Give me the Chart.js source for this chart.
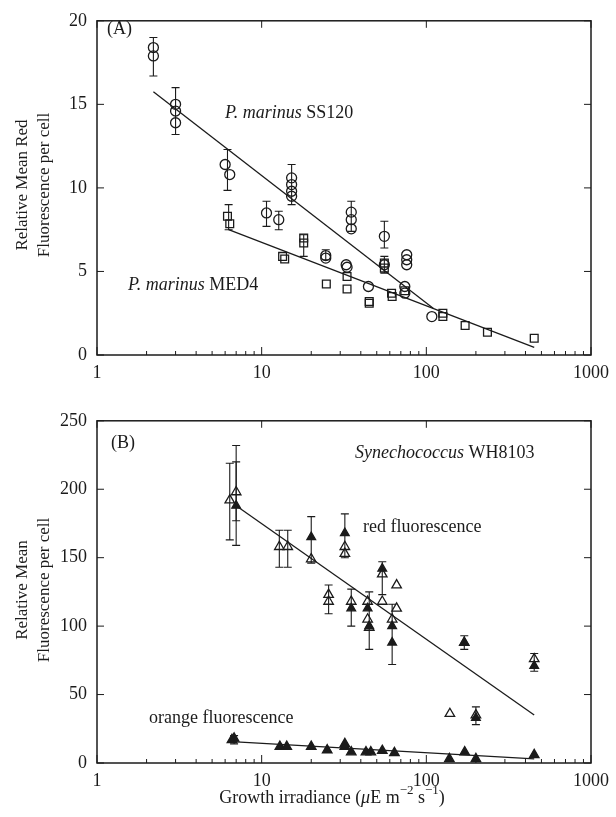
<!DOCTYPE html>
<html lang="en">
<head>
<meta charset="UTF-8">
<title>Relative mean fluorescence per cell vs growth irradiance</title>
<script src="https://cdn.jsdelivr.net/npm/chart.js"></script>
<style>
    body { margin: 0; background: #fff; }
    .wrap { position: relative; width: 616px; height: 817px; }
    canvas { position: absolute; left: 0; }
    #chartA { top: 0; }
    #chartB { top: 400px; }
</style>
</head>
<body>
<div class="wrap">
    <canvas id="chartA" width="616" height="392"></canvas>
    <canvas id="chartB" width="616" height="417"></canvas>
</div>
<script>
// ---- panel A : P. marinus SS120 (circles) and MED4 (squares)
const ss120X = [2.2, 2.2, 3.0, 3.0, 3.0, 6.0, 6.4, 10.7, 12.7, 15.2, 15.2, 15.2, 15.2, 24.5, 24.5, 32.6, 33, 35, 35, 35, 44.5, 55.6, 55.6, 76, 76, 76, 74, 74, 108];
const ss120Y = [18.4, 17.9, 15.0, 14.6, 13.9, 11.4, 10.8, 8.5, 8.1, 10.6, 10.2, 9.8, 9.5, 5.95, 5.8, 5.4, 5.25, 8.55, 8.1, 7.55, 4.1, 7.1, 5.4, 6.0, 5.7, 5.4, 4.1, 3.7, 2.3];
const med4X = [6.2, 6.4, 13.4, 13.8, 18, 18, 24.7, 33, 33, 45, 45, 55.6, 55.6, 61.5, 62, 74, 126, 126, 172, 235, 452];
const med4Y = [8.3, 7.85, 5.9, 5.75, 7.0, 6.7, 4.25, 4.7, 3.95, 3.2, 3.1, 5.5, 5.2, 3.7, 3.5, 3.85, 2.5, 2.3, 1.77, 1.36, 1.0];
const errAX = [2.2, 3.0, 6.2, 6.3, 10.7, 12.7, 15.2, 18, 24.5, 35, 55.6, 55.6];
const errALo = [16.7, 13.2, 9.85, 7.5, 7.7, 7.5, 9.0, 5.9, 5.7, 7.4, 6.4, 4.9];
const errAHi = [19.0, 16.0, 12.3, 9.0, 9.2, 8.6, 11.4, 7.2, 6.3, 9.2, 8.0, 5.9];
const ss120FitX = [2.2, 110];
const ss120FitY = [15.75, 2.8];
const med4FitX = [6.3, 452];
const med4FitY = [7.5, 0.45];

// ---- panel B : Synechococcus WH8103
const redOpenX = [6.4, 7.0, 12.8, 14.4, 20, 32, 32, 25.5, 25.5, 35, 44, 44, 45, 54, 54, 66, 66, 62, 170, 139, 200, 452];
const redOpenY = [192, 198, 158, 158, 149, 158, 153, 123, 118, 118, 118, 105, 99, 138, 118, 130, 113, 105, 88, 36, 35, 76];
const redFilledX = [7.0, 20, 32, 35, 44, 45, 54, 62, 62, 170, 200, 452];
const redFilledY = [188, 165, 168, 113, 113, 100, 142, 100, 88, 88, 33, 71];
const orangeX = [6.6, 6.8, 12.9, 14.2, 20, 25, 32, 32, 35, 43, 46, 54, 64, 138, 171, 200, 452];
const orangeY = [17, 18, 12, 12, 12, 9.5, 14, 12, 8, 8, 8, 9, 7.5, 3, 8, 3, 6];
const errBX = [6.4, 7.0, 7.0, 12.8, 14.4, 20, 32, 25.5, 35, 45, 54, 62, 170, 200, 452, 6.8];
const errBLo = [163, 159, 177, 143, 143, 146, 150, 109, 100, 83, 123, 72, 83, 28, 67, 14];
const errBHi = [219, 232, 220, 170, 170, 180, 182, 130, 127, 125, 147, 116, 93, 41, 80, 20];
const redFitX = [7.0, 452];
const redFitY = [188, 35];
const orangeFitX = [7.0, 452];
const orangeFitY = [15.5, 3];

const decades = [1, 10, 100, 1000];
const INK = '#1b1b1b';
const SERIF = '"Liberation Serif", "DejaVu Serif", serif';

function pts(xs, ys) {
    return xs.map((x, i) => ({ x: x, y: ys[i] }));
}

function marks(xs, ys, style, radius, filled) {
    return {
        data: pts(xs, ys),
        pointStyle: style,
        pointRadius: radius,
        borderColor: INK,
        backgroundColor: filled ? INK : 'rgba(0,0,0,0)',
        borderWidth: 1.3,
        showLine: false
    };
}

function fitLine(xs, ys) {
    return {
        data: pts(xs, ys),
        showLine: true,
        pointRadius: 0,
        borderColor: INK,
        borderWidth: 1.3,
        fill: false
    };
}

// text with italic / superscript pieces
function drawRich(ctx, parts, x, y, size, align) {
    const fontOf = p => (p.italic ? 'italic ' : '') + (p.sup ? Math.round(size * 0.7) : size) + 'px ' + SERIF;
    let total = 0;
    parts.forEach(p => { ctx.font = fontOf(p); total += ctx.measureText(p.t).width; });
    let cx = align === 'center' ? x - total / 2 : x;
    ctx.textAlign = 'left';
    ctx.textBaseline = 'middle';
    parts.forEach(p => {
        ctx.font = fontOf(p);
        ctx.fillText(p.t, cx, p.sup ? y - size * 0.4 : y);
        cx += ctx.measureText(p.t).width;
    });
}

function decor(errX, errLo, errHi, texts, yTitle, yTitleMid) {
    return {
        id: 'decor',
        afterDatasetsDraw(chart) {
            const ctx = chart.ctx;
            const a = chart.chartArea;
            const xs = chart.scales.x, ys = chart.scales.y;
            ctx.save();
            ctx.strokeStyle = INK;
            ctx.fillStyle = INK;

            // error bars
            ctx.lineWidth = 1.1;
            errX.forEach((v, i) => {
                const px = xs.getPixelForValue(v);
                const y1 = ys.getPixelForValue(errLo[i]);
                const y2 = ys.getPixelForValue(errHi[i]);
                ctx.beginPath();
                ctx.moveTo(px, y1); ctx.lineTo(px, y2);
                ctx.moveTo(px - 4, y1); ctx.lineTo(px + 4, y1);
                ctx.moveTo(px - 4, y2); ctx.lineTo(px + 4, y2);
                ctx.stroke();
            });

            // frame
            ctx.lineWidth = 1.5;
            ctx.strokeRect(a.left, a.top, a.right - a.left, a.bottom - a.top);

            // inward ticks
            ctx.lineWidth = 1;
            ctx.beginPath();
            ys.ticks.forEach(t => {
                const py = ys.getPixelForValue(t.value);
                ctx.moveTo(a.left, py); ctx.lineTo(a.left + 7, py);
                ctx.moveTo(a.right, py); ctx.lineTo(a.right - 7, py);
            });
            decades.forEach(d => {
                const px = xs.getPixelForValue(d);
                ctx.moveTo(px, a.bottom); ctx.lineTo(px, a.bottom - 8);
                ctx.moveTo(px, a.top); ctx.lineTo(px, a.top + 7);
                if (d < 1000) {
                    for (let k = 2; k <= 9; k++) {
                        const pm = xs.getPixelForValue(d * k);
                        ctx.moveTo(pm, a.bottom); ctx.lineTo(pm, a.bottom - 4);
                    }
                }
            });
            ctx.stroke();

            // annotations
            texts.forEach(t => drawRich(ctx, t.parts, t.x, t.y, t.size || 18, t.align || 'left'));

            // y title, two lines rotated
            ctx.font = '17px ' + SERIF;
            ctx.textAlign = 'center';
            ctx.textBaseline = 'middle';
            yTitle.forEach((line, i) => {
                ctx.save();
                ctx.translate(i === 0 ? 23 : 45, yTitleMid);
                ctx.rotate(-Math.PI / 2);
                ctx.fillText(line, 0, 0);
                ctx.restore();
            });
            ctx.restore();
        }
    };
}

function baseOptions(yMax, yStep, padTop, xAxisHeight) {
    return {
        responsive: false,
        animation: false,
        layout: { padding: { left: 0, top: padTop, right: 24, bottom: 0 } },
        plugins: { legend: { display: false }, tooltip: { enabled: false } },
        scales: {
            x: {
                type: 'logarithmic', min: 1, max: 1000,
                grid: { display: false, drawTicks: false },
                border: { display: false },
                ticks: {
                    color: INK, font: { family: SERIF, size: 18 }, padding: 7,
                    maxRotation: 0, autoSkip: false,
                    callback: v => decades.includes(v) ? String(v) : ''
                },
                afterBuildTicks: s => { s.ticks = decades.map(v => ({ value: v })); },
                afterFit: s => { s.height = xAxisHeight; }
            },
            y: {
                min: 0, max: yMax,
                grid: { display: false, drawTicks: false },
                border: { display: false },
                ticks: { stepSize: yStep, color: INK, font: { family: SERIF, size: 18 }, padding: 10 },
                afterFit: s => { s.width = 97; }
            }
        }
    };
}

new Chart(document.getElementById('chartA'), {
    type: 'scatter',
    data: {
        datasets: [
            fitLine(ss120FitX, ss120FitY),
            fitLine(med4FitX, med4FitY),
            marks(ss120X, ss120Y, 'circle', 5, false),
            marks(med4X, med4Y, 'rect', 5.5, false)
        ]
    },
    options: baseOptions(20, 5, 16, 37),
    plugins: [decor(errAX, errALo, errAHi, [
        { parts: [{ t: '(A)' }], x: 107, y: 29 },
        { parts: [{ t: 'P. marinus', italic: true }, { t: ' SS120' }], x: 225, y: 113 },
        { parts: [{ t: 'P. marinus', italic: true }, { t: ' MED4' }], x: 128, y: 285 }
    ], ['Relative Mean Red', 'Fluorescence per cell'], 185)]
});

new Chart(document.getElementById('chartB'), {
    type: 'scatter',
    data: {
        datasets: [
            fitLine(redFitX, redFitY),
            fitLine(orangeFitX, orangeFitY),
            marks(redOpenX, redOpenY, 'triangle', 5.5, false),
            marks(redFilledX, redFilledY, 'triangle', 5, true),
            marks(orangeX, orangeY, 'triangle', 5.5, true)
        ]
    },
    options: baseOptions(250, 50, 18, 54),
    plugins: [decor(errBX, errBLo, errBHi, [
        { parts: [{ t: '(B)' }], x: 111, y: 43 },
        { parts: [{ t: 'Synechococcus', italic: true }, { t: ' WH8103' }], x: 355, y: 53 },
        { parts: [{ t: 'red fluorescence' }], x: 363, y: 127 },
        { parts: [{ t: 'orange fluorescence' }], x: 149, y: 318 },
        { parts: [{ t: 'Growth irradiance (' }, { t: 'μ', italic: true }, { t: 'E m' }, { t: '−2', sup: true }, { t: ' s' }, { t: '−1', sup: true }, { t: ')' }], x: 332, y: 398, size: 18, align: 'center' }
    ], ['Relative Mean', 'Fluorescence per cell'], 190)]
});
</script>
</body>
</html>
